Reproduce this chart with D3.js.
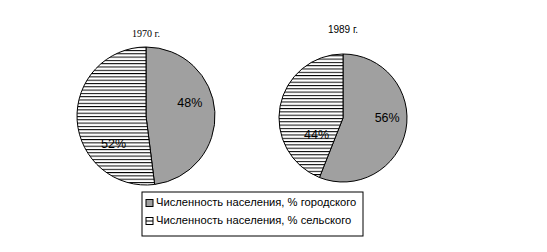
<!DOCTYPE html>
<html>
<head>
<meta charset="utf-8">
<script src="https://cdn.jsdelivr.net/npm/d3@7"></script>
<style>
  body { margin: 0; background: #fff; }
</style>
</head>
<body>
<div id="chart"></div>
<script>
// data
const categories = ["Численность населения, % городского", "Численность населения, % сельского"];
const years = ["1970 г.", "1989 г."];
const urban = [48, 56];
const rural = [52, 44];

const width = 547, height = 252;

const svg = d3.select("#chart").append("svg")
    .attr("width", width)
    .attr("height", height);

// stripe pattern for rural
const defs = svg.append("defs");
defs.append("pattern")
    .attr("id", "stripes")
    .attr("patternUnits", "userSpaceOnUse")
    .attr("width", 8).attr("height", 3.3)
  .call(p => {
    p.append("rect").attr("width", 8).attr("height", 3.3).attr("fill", "#fff");
    p.append("rect").attr("y", 0).attr("width", 8).attr("height", 1).attr("fill", "#000");
  });

const color = d3.scaleOrdinal()
    .domain(categories)
    .range(["#a0a0a0", "url(#stripes)"]);

// pie layout per year
const pies = [
  {cx: 146, cy: 116, r: 69, titleY: 37, titleFont: "Liberation Serif, serif"},
  {cx: 343, cy: 118, r: 64, titleY: 33, titleFont: "Liberation Sans, Arial, sans-serif"}
];
// label placement [radius fraction, angle shift in degrees] per slice (urban, rural)
const labelPos = [[[0.66, -12], [0.63, -38]], [[0.69, -10], [0.5, -45]]];

const pie = d3.pie().sort(null).value(d => d.v);

years.forEach(function(year, i) {
  const data = [{k: categories[0], v: urban[i]}, {k: categories[1], v: rural[i]}];
  const P = pies[i];
  const g = svg.append("g").attr("transform", `translate(${P.cx},${P.cy})`);
  const arc = d3.arc().innerRadius(0).outerRadius(P.r);
  const arcs = pie(data);

  g.selectAll("path")
    .data(arcs)
    .enter().append("path")
      .attr("d", arc)
      .attr("fill", d => color(d.data.k))
      .attr("stroke", "#000")
      .attr("stroke-width", 1);

  g.selectAll("text.lbl")
    .data(arcs)
    .enter().append("text")
      .attr("class", "lbl")
      .attr("transform", function(d, j) {
        const lp = labelPos[i][j];
        const rr = P.r * lp[0];
        const a = (d.startAngle + d.endAngle) / 2 + lp[1] * Math.PI / 180;
        return `translate(${Math.sin(a) * rr},${-Math.cos(a) * rr})`;
      })
      .attr("text-anchor", "middle")
      .attr("dominant-baseline", "middle")
      .attr("font-family", "Liberation Sans, Arial, sans-serif")
      .attr("font-size", "12.5px")
      .text(d => d.data.v + "%");

  svg.append("text")
    .attr("x", P.cx)
    .attr("y", P.titleY)
    .attr("text-anchor", "middle")
    .attr("font-family", P.titleFont)
    .attr("font-size", "10px")
    .text(year);
});

// legend
const lg = svg.append("g").attr("transform", "translate(142,192)");
lg.append("rect")
    .attr("width", 221).attr("height", 44)
    .attr("fill", "#fff").attr("stroke", "#000");

categories.forEach(function(c, i) {
  const y = 11 + i * 18;
  lg.append("rect")
    .attr("x", 4).attr("y", y - 3.5)
    .attr("width", 7).attr("height", 7)
    .attr("fill", i == 0 ? "#a0a0a0" : "#fff")
    .attr("stroke", "#000");
  if (i == 1) {
    lg.append("line").attr("x1", 4).attr("x2", 11).attr("y1", y).attr("y2", y).attr("stroke", "#000");
  }
  lg.append("text")
    .attr("x", 14).attr("y", y)
    .attr("dominant-baseline", "middle")
    .attr("font-family", "Liberation Sans, Arial, sans-serif")
    .attr("font-size", "11.2px")
    .text(c);
});
</script>
</body>
</html>
